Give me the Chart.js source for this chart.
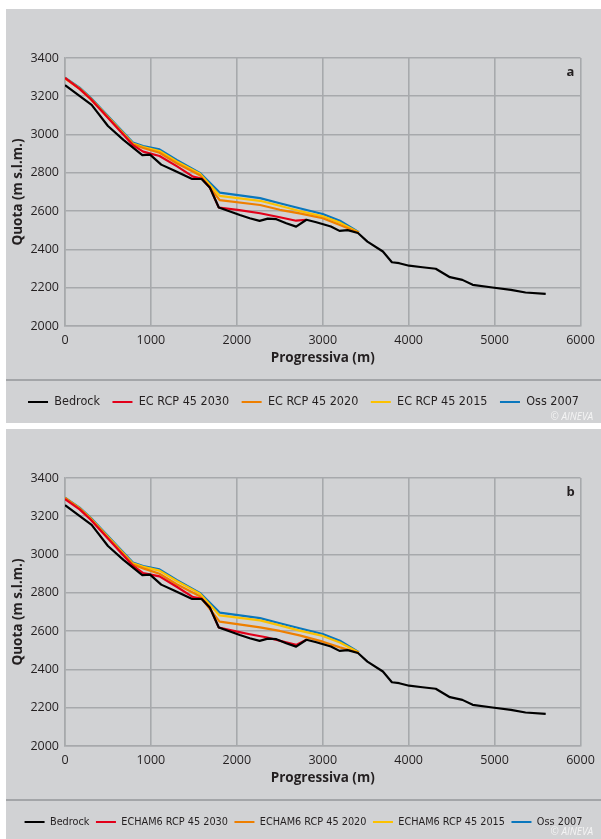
<!DOCTYPE html>
<html>
<head>
<meta charset="utf-8">
<script src="https://cdn.jsdelivr.net/npm/chart.js@4"></script>
<style>
    html, body { margin: 0; padding: 0; background: #ffffff; overflow: hidden; }
    .panel { position: absolute; left: 6px; width: 595px; height: 414px; background: #d1d2d4; }
    .panel canvas { position: absolute; left: 0; top: 0; }
    #panel-a { top: 9px; }
    #panel-b { top: 429px; }
</style>
</head>
<body>
<div class="panel" id="panel-a"><canvas id="chart-a" width="595" height="414"></canvas></div>
<div class="panel" id="panel-b"><canvas id="chart-b" width="595" height="414"></canvas></div>
<script>
// Bedrock profile (same in both panels)
const bedrockX = [0, 310, 500, 680, 900, 990, 1120, 1270, 1480, 1590, 1685, 1790, 2035, 2150, 2265, 2360, 2460, 2575, 2690, 2810, 2925, 3095, 3195, 3290, 3410, 3520, 3700, 3805, 3890, 4005, 4160, 4315, 4480, 4625, 4745, 4975, 5190, 5360, 5595];
const bedrockY = [3258, 3155, 3045, 2972, 2893, 2895, 2843, 2812, 2768, 2768, 2724, 2619, 2580, 2563, 2549, 2561, 2558, 2537, 2519, 2555, 2542, 2520, 2497, 2501, 2486, 2441, 2389, 2333, 2328, 2315, 2307, 2299, 2255, 2241, 2215, 2201, 2189, 2175, 2168];

// Glacier surfaces
const surfaceX = [0, 170, 300, 790, 910, 1100, 1300, 1570, 1800, 2270, 2500, 2730, 3000, 3200, 3420];
const oss2007 = [3297, 3245, 3192, 2958, 2940, 2923, 2867, 2800, 2697, 2668, 2641, 2615, 2585, 2550, 2490];

// Panel a - EC RCP 45
const ec2015 = [3295, 3241, 3188, 2953, 2935, 2914, 2860, 2795, 2680, 2654, 2628, 2601, 2573, 2540, 2488];
const ec2020 = [3294, 3239, 3185, 2949, 2930, 2905, 2850, 2788, 2658, 2632, 2607, 2588, 2563, 2528, 2487];
const ec2030X = [0, 170, 300, 790, 910, 1100, 1300, 1490, 1590, 1685, 1790, 2030, 2270, 2500, 2690, 2810];
const ec2030 = [3296, 3239, 3186, 2945, 2911, 2888, 2835, 2780, 2770, 2724, 2619, 2605, 2589, 2568, 2550, 2555];

// Panel b - ECHAM6 RCP 45
const echam2015 = [3295, 3242, 3189, 2954, 2936, 2916, 2862, 2796, 2682, 2656, 2630, 2603, 2575, 2541, 2488];
const echam2020 = [3296, 3240, 3185, 2948, 2928, 2900, 2845, 2782, 2650, 2620, 2601, 2578, 2545, 2515, 2487];
const echam2030X = [0, 170, 300, 790, 910, 1100, 1300, 1490, 1590, 1685, 1790, 2030, 2150, 2340, 2690, 2810];
const echam2030 = [3290, 3236, 3182, 2942, 2903, 2886, 2832, 2778, 2770, 2724, 2619, 2595, 2584, 2568, 2528, 2555];

const xTicks = [0, 1000, 2000, 3000, 4000, 5000, 6000];
const yTicks = [2000, 2200, 2400, 2600, 2800, 3000, 3200, 3400];

const COLORS = {
    bedrock: '#000000',
    y2030: '#e2001a',
    y2020: '#ee7f00',
    y2015: '#fcc100',
    oss: '#0a77bd'
};
const gridColor = '#a7a9ac';
const textColor = '#231f20';
const tickFont = { family: "'Open Sans', sans-serif", size: 12.5 };
const titleFont = { family: "'Open Sans', sans-serif", size: 13.5, weight: 'bold' };
const legendFamily = "'DejaVu Sans Condensed', 'DejaVu Sans', sans-serif";

function toPoints(xs, ys) {
    return xs.map((x, i) => ({ x: x, y: ys[i] }));
}

function makeDataset(label, xs, ys, color) {
    return {
        label: label,
        data: toPoints(xs, ys),
        borderColor: color,
        backgroundColor: color,
        borderWidth: 2.2,
        pointRadius: 0,
        tension: 0,
        borderJoinStyle: 'round',
        fill: false
    };
}

// separator line, panel letter and copyright
const panelDecor = {
    id: 'panelDecor',
    afterDraw(chart, args, opts) {
        const ctx = chart.ctx;
        const area = chart.chartArea;
        ctx.save();
        ctx.strokeStyle = '#a3a5a8';
        ctx.lineWidth = 2;
        ctx.beginPath();
        ctx.moveTo(0, opts.sepY);
        ctx.lineTo(chart.width, opts.sepY);
        ctx.stroke();

        ctx.fillStyle = textColor;
        ctx.font = "bold 13px 'Open Sans', sans-serif";
        ctx.textAlign = 'center';
        ctx.textBaseline = 'middle';
        ctx.fillText(opts.letter, area.right - 10, area.top + 14);

        ctx.fillStyle = '#f4f4f4';
        ctx.font = "italic 10px 'Open Sans', sans-serif";
        ctx.textAlign = 'right';
        ctx.textBaseline = 'alphabetic';
        ctx.fillText('\u00a9 AINEVA', 587, opts.copyY);
        ctx.restore();
    }
};

function getChartOptions(cfg) {
    return {
        responsive: false,
        animation: false,
        layout: { padding: { top: 49, left: 0, right: 0, bottom: cfg.bottomPad } },
        scales: {
            x: {
                type: 'linear',
                min: 0,
                max: 6000,
                afterBuildTicks: (scale) => { scale.ticks = xTicks.map(v => ({ value: v })); },
                afterFit: (scale) => {
                    scale.height = cfg.xHeight;
                    scale.paddingRight = 20.5;
                },
                grid: { color: gridColor, lineWidth: 1.6, drawTicks: false },
                border: { color: gridColor, width: 1.6 },
                ticks: { color: textColor, font: tickFont, padding: 7, maxRotation: 0, callback: v => String(v) },
                title: {
                    display: true,
                    text: 'Progressiva (m)',
                    color: textColor,
                    font: titleFont,
                    padding: { top: 0, bottom: cfg.xTitlePad }
                }
            },
            y: {
                min: 2000,
                max: 3400,
                afterBuildTicks: (scale) => { scale.ticks = yTicks.map(v => ({ value: v })); },
                afterFit: (scale) => { scale.width = 59; },
                grid: { color: gridColor, lineWidth: 1.6, drawTicks: false },
                border: { color: gridColor, width: 1.6 },
                ticks: { color: textColor, font: tickFont, padding: 6, callback: v => String(v) },
                title: {
                    display: true,
                    text: 'Quota (m s.l.m.)',
                    color: textColor,
                    font: titleFont,
                    padding: { top: 4, bottom: 0 }
                }
            }
        },
        plugins: {
            tooltip: { enabled: false },
            legend: {
                position: 'bottom',
                labels: {
                    color: textColor,
                    font: { family: legendFamily, size: cfg.legendSize },
                    usePointStyle: true,
                    pointStyle: 'line',
                    pointStyleWidth: 20,
                    padding: cfg.legendPad
                }
            },
            panelDecor: { letter: cfg.letter, sepY: 371, copyY: cfg.copyY }
        }
    };
}

new Chart(document.getElementById('chart-a'), {
    type: 'line',
    data: {
        datasets: [
            makeDataset('Bedrock', bedrockX, bedrockY, COLORS.bedrock),
            makeDataset('EC RCP 45 2030', ec2030X, ec2030, COLORS.y2030),
            makeDataset('EC RCP 45 2020', surfaceX, ec2020, COLORS.y2020),
            makeDataset('EC RCP 45 2015', surfaceX, ec2015, COLORS.y2015),
            makeDataset('Oss 2007', surfaceX, oss2007, COLORS.oss)
        ]
    },
    options: getChartOptions({
        letter: 'a',
        bottomPad: 4.75,
        xHeight: 57.25,
        xTitlePad: 17.15,
        legendPad: 12.5,
        legendSize: 12.5,
        copyY: 411
    }),
    plugins: [panelDecor]
});

new Chart(document.getElementById('chart-b'), {
    type: 'line',
    data: {
        datasets: [
            makeDataset('Bedrock', bedrockX, bedrockY, COLORS.bedrock),
            makeDataset('ECHAM6 RCP 45 2030', echam2030X, echam2030, COLORS.y2030),
            makeDataset('ECHAM6 RCP 45 2020', surfaceX, echam2020, COLORS.y2020),
            makeDataset('ECHAM6 RCP 45 2015', surfaceX, echam2015, COLORS.y2015),
            makeDataset('Oss 2007', surfaceX, oss2007, COLORS.oss)
        ]
    },
    options: getChartOptions({
        letter: 'b',
        bottomPad: 5.6,
        xHeight: 64.1,
        xTitlePad: 24,
        legendPad: 6.5,
        legendSize: 10.8,
        copyY: 406
    }),
    plugins: [panelDecor]
});
</script>
</body>
</html>
